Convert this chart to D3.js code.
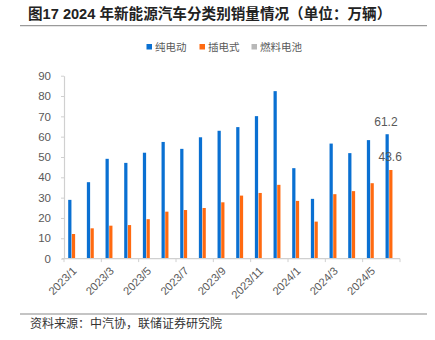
<!DOCTYPE html>
<html><head><meta charset="utf-8">
<script src="https://cdn.jsdelivr.net/npm/d3@7"></script>
<style>
html,body{margin:0;padding:0;background:#fff;}
svg{display:block;}
</style></head>
<body><svg id="c" width="435" height="340"></svg>
<script>
const months = ["2023/1","2023/2","2023/3","2023/4","2023/5","2023/6","2023/7","2023/8","2023/9","2023/10","2023/11","2023/12","2024/1","2024/2","2024/3","2024/4","2024/5","2024/6"];
const seriesNames = ["纯电动","插电式","燃料电池"];
const bev  = [28.9,37.6,49.1,47.1,52.1,57.4,54.0,59.7,62.9,64.7,70.1,82.4,44.5,29.4,56.6,51.9,58.3,61.2];
const phev = [12.1,14.9,16.2,16.5,19.4,23.1,23.9,24.9,27.7,31.0,32.3,36.3,28.4,18.2,31.7,33.2,37.1,43.6];
const fcev = [0,0,0,0,0,0,0,0,0,0,0,0,0,0,0,0,0,0];
const yTicks = [0,10,20,30,40,50,60,70,80,90];
const xTickLabels = ["2023/1","2023/3","2023/5","2023/7","2023/9","2023/11","2024/1","2024/3","2024/5"];
const colors = ["#0a70d2","#ff6a10","#b8b8b8"];
const labelled = {"纯电动":[17],"插电式":[17]};

const svg = d3.select("#c");
const font = "'Liberation Sans', Arial, 'Noto Sans CJK SC', sans-serif";
const cjk = "'Noto Sans CJK SC', sans-serif";

// title
svg.append("text").attr("x",28).attr("y",18.5)
  .attr("font-family",font).attr("font-weight","bold").attr("font-size",14.6)
  .attr("fill","#222").text("图17 2024 年新能源汽车分类别销量情况（单位：万辆）");
svg.append("line").attr("x1",20).attr("x2",427).attr("y1",25.6).attr("y2",25.6)
  .attr("stroke","#9a9a9a").attr("stroke-width",1.3);

// legend
const leg = svg.append("g");
const legX = [146.5,199.5,251.5];
seriesNames.forEach((s,i)=>{
  leg.append("rect").attr("x",legX[i]).attr("y",44).attr("width",5.5).attr("height",5.5).attr("fill",colors[i]);
  leg.append("text").attr("x",legX[i]+8.5).attr("y",51).attr("font-family",cjk).attr("font-size",10.5)
    .attr("fill","#595959").text(s);
});

const x = d3.scaleBand().domain(months).range([64,400]).padding(0);
const inner = d3.scaleBand().domain(seriesNames).range([4.2,14.8]).paddingInner(0.12);
const y = d3.scaleLinear().domain([0,90]).range([258.6,75.7]);

// y axis
const yAxis = svg.append("g").attr("transform","translate(64,0)")
  .call(d3.axisLeft(y).tickValues(yTicks).tickSize(3).tickPadding(10).tickSizeOuter(0));
yAxis.select(".domain").attr("stroke","#d0d0d0").attr("stroke-width",1.2);
yAxis.selectAll(".tick line").attr("stroke","#d0d0d0");
yAxis.selectAll(".tick text").attr("font-family",font).attr("font-size",11.5).attr("fill","#595959");

// bars
const data = [bev,phev,fcev];
seriesNames.forEach((s,si)=>{
  svg.append("g").selectAll("rect").data(months).join("rect")
    .attr("x",(m)=>x(m)+inner(s))
    .attr("width",inner.bandwidth())
    .attr("y",(m,i)=>y(data[si][i]))
    .attr("height",(m,i)=>y(0)-y(data[si][i]))
    .attr("fill",colors[si]);
});

// data labels
const lblOff = [[-1.2,-8.5],[-0.7,-8.5]];
seriesNames.slice(0,2).forEach((s,si)=>{
  labelled[s].forEach(i=>{
    svg.append("text")
      .attr("x",x(months[i])+inner(s)+inner.bandwidth()/2+lblOff[si][0])
      .attr("y",y(data[si][i])+lblOff[si][1])
      .attr("text-anchor","middle").attr("font-family",font).attr("font-size",12)
      .attr("fill","#595959").text(data[si][i].toFixed(1));
  });
});

// x axis
const xa = svg.append("g");
xa.append("line").attr("x1",62).attr("x2",400).attr("y1",y(0)).attr("y2",y(0))
  .attr("stroke","#d0d0d0").attr("stroke-width",1.4);
const tickIdx = d3.range(0,19,2);
xa.selectAll("line.t").data(tickIdx).join("line").attr("class","t")
  .attr("x1",i=>64+i*x.step()).attr("x2",i=>64+i*x.step())
  .attr("y1",y(0)).attr("y2",y(0)+3.5).attr("stroke","#d0d0d0");
xa.selectAll("text").data(xTickLabels).join("text")
  .attr("transform",m=>`translate(${x(m)+x.bandwidth()/2+4},${y(0)+13}) rotate(-45)`)
  .attr("text-anchor","end").attr("font-family",font).attr("font-size",11.2)
  .attr("fill","#595959").text(m=>m);

// source
svg.append("line").attr("x1",20).attr("x2",427).attr("y1",314).attr("y2",314)
  .attr("stroke","#8a8a8a").attr("stroke-width",1.2);
svg.append("text").attr("x",30).attr("y",327.5).attr("font-family",cjk).attr("font-size",12)
  .attr("fill","#333").text("资料来源：中汽协，联储证券研究院");
</script></body></html>
